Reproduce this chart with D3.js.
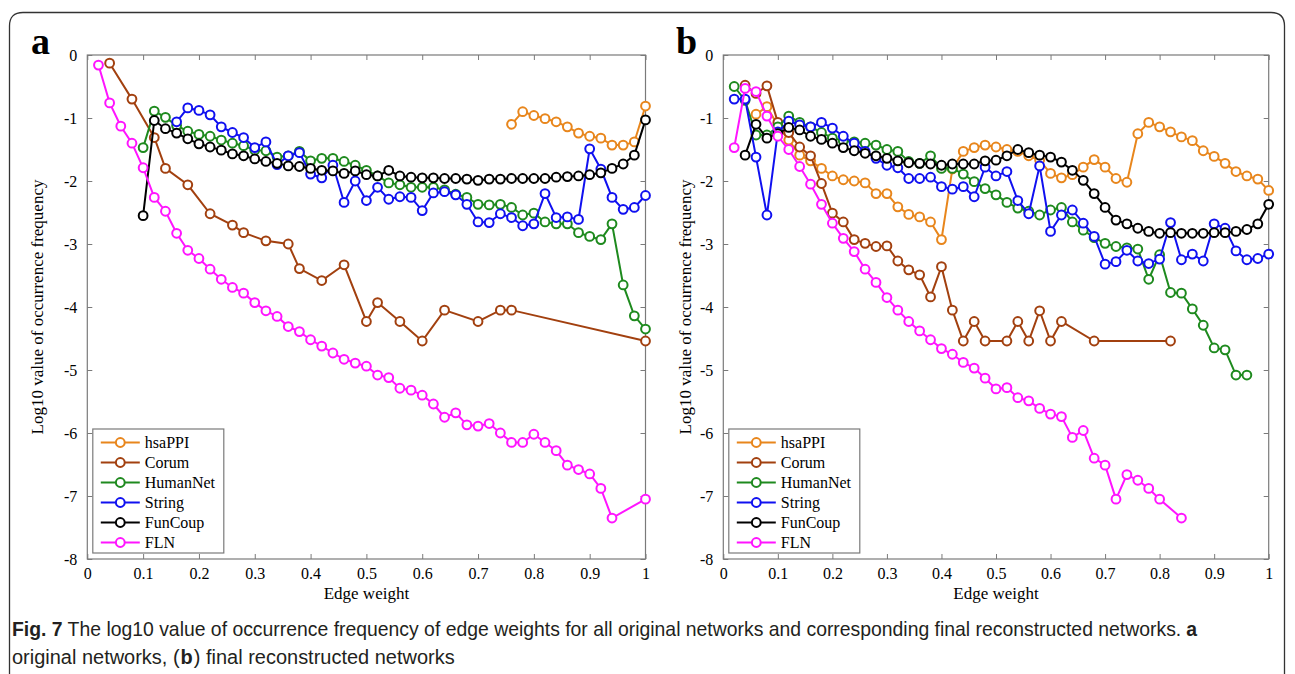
<!DOCTYPE html>
<html>
<head>
<meta charset="utf-8">
<script src="https://cdn.jsdelivr.net/npm/d3@7"></script>
<style>
	body { margin: 0; background: #fff; }
	svg text { font-family: "Liberation Serif", "Times New Roman", serif; }
</style>
</head>
<body>
<svg id="fig" width="1295" height="674"></svg>
<script>
// ---------- DATA ----------
const seriesNames = ["hsaPPI", "Corum", "HumanNet", "String", "FunCoup", "FLN"];
const seriesColors = ["#e8861c", "#a2400f", "#1e8a1e", "#1010f0", "#000000", "#ff14ff"];
const xTicks = [0, 0.1, 0.2, 0.3, 0.4, 0.5, 0.6, 0.7, 0.8, 0.9, 1];
const yTicks = [0, -1, -2, -3, -4, -5, -6, -7, -8];

// (a) original networks: [edge weight, log10 frequency]
const aHsaPPI = [[0.76,-1.10],[0.78,-0.90],[0.80,-0.96],[0.82,-1.01],[0.84,-1.06],[0.86,-1.14],[0.88,-1.24],[0.90,-1.29],[0.92,-1.32],[0.94,-1.43],[0.96,-1.43],[0.98,-1.38],[1.00,-0.81]];
const aCorum = [[0.04,-0.13],[0.08,-0.70],[0.12,-1.31],[0.14,-1.80],[0.18,-2.06],[0.22,-2.52],[0.26,-2.70],[0.28,-2.82],[0.32,-2.95],[0.36,-3.00],[0.38,-3.39],[0.42,-3.58],[0.46,-3.33],[0.50,-4.23],[0.52,-3.93],[0.56,-4.23],[0.60,-4.54],[0.64,-4.05],[0.70,-4.23],[0.74,-4.05],[0.76,-4.05],[1.00,-4.54]];
const aHumanNet = [[0.10,-1.47],[0.12,-0.89],[0.14,-0.99],[0.16,-1.12],[0.18,-1.21],[0.20,-1.26],[0.22,-1.29],[0.24,-1.35],[0.26,-1.40],[0.28,-1.44],[0.30,-1.51],[0.32,-1.52],[0.34,-1.62],[0.36,-1.60],[0.38,-1.53],[0.40,-1.68],[0.42,-1.64],[0.44,-1.64],[0.46,-1.69],[0.48,-1.75],[0.50,-1.83],[0.52,-1.92],[0.54,-2.03],[0.56,-2.06],[0.58,-2.10],[0.60,-2.10],[0.62,-2.10],[0.64,-2.14],[0.66,-2.21],[0.68,-2.26],[0.70,-2.37],[0.72,-2.38],[0.74,-2.37],[0.76,-2.42],[0.78,-2.54],[0.80,-2.51],[0.82,-2.65],[0.84,-2.68],[0.86,-2.68],[0.88,-2.82],[0.90,-2.88],[0.92,-2.93],[0.94,-2.68],[0.96,-3.65],[0.98,-4.14],[1.00,-4.35]];
const aString = [[0.16,-1.06],[0.18,-0.84],[0.20,-0.88],[0.22,-0.95],[0.24,-1.14],[0.26,-1.23],[0.28,-1.31],[0.30,-1.47],[0.32,-1.38],[0.34,-1.74],[0.36,-1.60],[0.38,-1.55],[0.40,-1.89],[0.42,-1.95],[0.44,-1.75],[0.46,-2.34],[0.48,-2.00],[0.50,-2.31],[0.52,-2.10],[0.54,-2.29],[0.56,-2.25],[0.58,-2.26],[0.60,-2.47],[0.62,-2.19],[0.64,-2.17],[0.66,-2.22],[0.68,-2.37],[0.70,-2.65],[0.72,-2.66],[0.74,-2.52],[0.76,-2.58],[0.78,-2.71],[0.80,-2.68],[0.82,-2.20],[0.84,-2.58],[0.86,-2.57],[0.88,-2.61],[0.90,-1.49],[0.92,-1.81],[0.94,-2.26],[0.96,-2.45],[0.98,-2.42],[1.00,-2.23]];
const aFunCoup = [[0.10,-2.55],[0.12,-1.04],[0.14,-1.17],[0.16,-1.24],[0.18,-1.33],[0.20,-1.41],[0.22,-1.46],[0.24,-1.51],[0.26,-1.57],[0.28,-1.60],[0.30,-1.65],[0.32,-1.69],[0.34,-1.72],[0.36,-1.76],[0.38,-1.77],[0.40,-1.80],[0.42,-1.83],[0.44,-1.84],[0.46,-1.88],[0.48,-1.84],[0.50,-1.90],[0.52,-1.92],[0.54,-1.83],[0.56,-1.92],[0.58,-1.94],[0.60,-1.95],[0.62,-1.95],[0.64,-1.96],[0.66,-1.96],[0.68,-1.97],[0.70,-1.99],[0.72,-1.97],[0.74,-1.97],[0.76,-1.96],[0.78,-1.96],[0.80,-1.96],[0.82,-1.96],[0.84,-1.94],[0.86,-1.93],[0.88,-1.92],[0.90,-1.90],[0.92,-1.87],[0.94,-1.80],[0.96,-1.73],[0.98,-1.59],[1.00,-1.03]];
const aFLN = [[0.02,-0.16],[0.04,-0.76],[0.06,-1.13],[0.08,-1.40],[0.10,-1.79],[0.12,-2.26],[0.14,-2.48],[0.16,-2.83],[0.18,-3.10],[0.20,-3.23],[0.22,-3.40],[0.24,-3.56],[0.26,-3.69],[0.28,-3.78],[0.30,-3.93],[0.32,-4.06],[0.34,-4.15],[0.36,-4.31],[0.38,-4.39],[0.40,-4.52],[0.42,-4.62],[0.44,-4.73],[0.46,-4.83],[0.48,-4.89],[0.50,-4.94],[0.52,-5.08],[0.54,-5.12],[0.56,-5.29],[0.58,-5.32],[0.60,-5.40],[0.62,-5.54],[0.64,-5.75],[0.66,-5.68],[0.68,-5.87],[0.70,-5.89],[0.72,-5.85],[0.74,-6.00],[0.76,-6.15],[0.78,-6.15],[0.80,-6.02],[0.82,-6.15],[0.84,-6.28],[0.86,-6.51],[0.88,-6.58],[0.90,-6.65],[0.92,-6.88],[0.94,-7.35],[1.00,-7.05]];

// (b) final reconstructed networks
const bHsaPPI = [[0.06,-0.94],[0.08,-0.82],[0.10,-1.12],[0.12,-1.35],[0.14,-1.59],[0.16,-1.68],[0.18,-1.80],[0.20,-1.92],[0.22,-1.98],[0.24,-2.00],[0.26,-2.03],[0.28,-2.20],[0.30,-2.20],[0.32,-2.41],[0.34,-2.53],[0.36,-2.57],[0.38,-2.65],[0.40,-2.93],[0.42,-1.81],[0.44,-1.53],[0.46,-1.47],[0.48,-1.43],[0.50,-1.46],[0.52,-1.50],[0.54,-1.53],[0.56,-1.60],[0.58,-1.67],[0.60,-1.88],[0.62,-1.95],[0.64,-1.90],[0.66,-1.78],[0.68,-1.66],[0.70,-1.78],[0.72,-1.96],[0.74,-2.02],[0.76,-1.25],[0.78,-1.07],[0.80,-1.14],[0.82,-1.22],[0.84,-1.30],[0.86,-1.36],[0.88,-1.52],[0.90,-1.61],[0.92,-1.72],[0.94,-1.85],[0.96,-1.92],[0.98,-1.97],[1.00,-2.15]];
const bCorum = [[0.04,-0.48],[0.06,-0.61],[0.08,-0.49],[0.10,-1.07],[0.12,-1.23],[0.14,-1.46],[0.16,-1.60],[0.18,-2.04],[0.20,-2.51],[0.22,-2.65],[0.24,-2.93],[0.26,-2.99],[0.28,-3.04],[0.30,-3.03],[0.32,-3.27],[0.34,-3.41],[0.36,-3.49],[0.38,-3.84],[0.40,-3.36],[0.42,-4.05],[0.44,-4.54],[0.46,-4.23],[0.48,-4.54],[0.52,-4.54],[0.54,-4.23],[0.56,-4.54],[0.58,-4.06],[0.60,-4.54],[0.62,-4.23],[0.68,-4.54],[0.82,-4.54]];
const bHumanNet = [[0.02,-0.50],[0.04,-0.72],[0.06,-1.27],[0.08,-1.27],[0.10,-1.14],[0.12,-0.97],[0.14,-1.07],[0.16,-1.14],[0.18,-1.23],[0.20,-1.32],[0.22,-1.36],[0.24,-1.38],[0.26,-1.40],[0.28,-1.43],[0.30,-1.50],[0.32,-1.53],[0.34,-1.69],[0.36,-1.72],[0.38,-1.60],[0.40,-1.80],[0.42,-1.80],[0.44,-1.89],[0.46,-2.01],[0.48,-2.12],[0.50,-2.22],[0.52,-2.34],[0.54,-2.43],[0.56,-2.48],[0.58,-2.54],[0.60,-2.46],[0.62,-2.42],[0.64,-2.65],[0.66,-2.78],[0.68,-2.90],[0.70,-2.99],[0.72,-3.04],[0.74,-3.06],[0.76,-3.08],[0.78,-3.56],[0.80,-3.17],[0.82,-3.77],[0.84,-3.78],[0.86,-4.03],[0.88,-4.29],[0.90,-4.65],[0.92,-4.68],[0.94,-5.08],[0.96,-5.08]];
const bString = [[0.02,-0.70],[0.04,-0.70],[0.06,-1.62],[0.08,-2.54],[0.10,-1.22],[0.12,-1.05],[0.14,-1.11],[0.16,-1.14],[0.18,-1.07],[0.20,-1.16],[0.22,-1.29],[0.24,-1.40],[0.26,-1.53],[0.28,-1.64],[0.30,-1.75],[0.32,-1.79],[0.34,-1.96],[0.36,-1.96],[0.38,-1.94],[0.40,-2.09],[0.42,-2.13],[0.44,-2.09],[0.46,-2.25],[0.48,-1.78],[0.50,-1.92],[0.52,-1.85],[0.54,-2.31],[0.56,-2.52],[0.58,-1.76],[0.60,-2.80],[0.62,-2.54],[0.64,-2.46],[0.66,-2.67],[0.68,-2.88],[0.70,-3.32],[0.72,-3.28],[0.74,-3.10],[0.76,-3.27],[0.78,-3.31],[0.80,-3.24],[0.82,-2.66],[0.84,-3.25],[0.86,-3.16],[0.88,-3.27],[0.90,-2.68],[0.92,-2.75],[0.94,-3.11],[0.96,-3.25],[0.98,-3.23],[1.00,-3.16]];
const bFunCoup = [[0.04,-1.59],[0.06,-1.10],[0.08,-1.32],[0.10,-1.25],[0.12,-1.15],[0.14,-1.19],[0.16,-1.29],[0.18,-1.34],[0.20,-1.40],[0.22,-1.47],[0.24,-1.52],[0.26,-1.56],[0.28,-1.60],[0.30,-1.64],[0.32,-1.68],[0.34,-1.71],[0.36,-1.72],[0.38,-1.73],[0.40,-1.75],[0.42,-1.73],[0.44,-1.73],[0.46,-1.73],[0.48,-1.68],[0.50,-1.67],[0.52,-1.60],[0.54,-1.50],[0.56,-1.55],[0.58,-1.59],[0.60,-1.62],[0.62,-1.70],[0.64,-1.83],[0.66,-1.99],[0.68,-2.20],[0.70,-2.42],[0.72,-2.62],[0.74,-2.68],[0.76,-2.75],[0.78,-2.80],[0.80,-2.83],[0.82,-2.82],[0.84,-2.83],[0.86,-2.83],[0.88,-2.83],[0.90,-2.82],[0.92,-2.82],[0.94,-2.80],[0.96,-2.77],[0.98,-2.68],[1.00,-2.37]];
const bFLN = [[0.02,-1.47],[0.04,-0.53],[0.06,-0.58],[0.08,-0.97],[0.10,-1.29],[0.12,-1.50],[0.14,-1.77],[0.16,-2.05],[0.18,-2.37],[0.20,-2.67],[0.22,-2.91],[0.24,-3.12],[0.26,-3.40],[0.28,-3.61],[0.30,-3.85],[0.32,-4.05],[0.34,-4.23],[0.36,-4.38],[0.38,-4.52],[0.40,-4.66],[0.42,-4.75],[0.44,-4.88],[0.46,-4.97],[0.48,-5.13],[0.50,-5.30],[0.52,-5.28],[0.54,-5.44],[0.56,-5.49],[0.58,-5.61],[0.60,-5.70],[0.62,-5.74],[0.64,-6.07],[0.66,-5.96],[0.68,-6.40],[0.70,-6.51],[0.72,-7.05],[0.74,-6.66],[0.76,-6.75],[0.78,-6.88],[0.80,-7.05],[0.84,-7.35]];

// caption pieces: [text, bold?]
const captionLine1 = [["Fig. 7", true], ["The log10 value of occurrence frequency of edge weights for all original networks and corresponding final reconstructed networks.", false], ["a", true]];
const captionLine2 = [["original networks, (", false], ["b", true], [") final reconstructed networks", false]];

// ---------- LAYOUT ----------
const panels = [
	{ letter: "a", left: 87.3, right: 645.5, letterX: 31, ylabX: 43, series: [aHsaPPI, aCorum, aHumanNet, aString, aFunCoup, aFLN] },
	{ letter: "b", left: 723.3, right: 1268.7, letterX: 676, ylabX: 691, series: [bHsaPPI, bCorum, bHumanNet, bString, bFunCoup, bFLN] },
];
const plotTop = 55, plotBottom = 559;
const axisColor = "#7a7a7a";
const serif = "'Liberation Serif', 'Times New Roman', serif";

const svg = d3.select("#fig");

// figure frame
svg.append("path")
	.attr("d", "M9.5,690 L9.5,26 Q9.5,12.5 23,12.5 L1271,12.5 Q1284.5,12.5 1284.5,26 L1284.5,690")
	.attr("fill", "none")
	.attr("stroke", "#333")
	.attr("stroke-width", 1.3);

panels.forEach((p) => {
	const x = d3.scaleLinear().domain([0, 1]).range([p.left, p.right]);
	const y = d3.scaleLinear().domain([-8, 0]).range([plotBottom, plotTop]);
	const g = svg.append("g");

	// panel letter
	g.append("text")
		.attr("x", p.letterX)
		.attr("y", 54)
		.attr("font-size", 38)
		.attr("font-weight", "bold")
		.text(p.letter);

	// axes (MATLAB style box with inward ticks)
	const fmtX = (d) => String(+d.toFixed(1));
	const axB = g.append("g").attr("transform", `translate(0,${plotBottom})`)
		.call(d3.axisBottom(x).tickValues(xTicks).tickSizeInner(-5).tickSizeOuter(0).tickPadding(9).tickFormat(fmtX));
	const axT = g.append("g").attr("transform", `translate(0,${plotTop})`)
		.call(d3.axisTop(x).tickValues(xTicks).tickSizeInner(-5).tickSizeOuter(0).tickFormat(""));
	const axL = g.append("g").attr("transform", `translate(${p.left},0)`)
		.call(d3.axisLeft(y).tickValues(yTicks).tickSizeInner(-5).tickSizeOuter(0).tickPadding(10).tickFormat((d) => String(d)));
	const axR = g.append("g").attr("transform", `translate(${p.right},0)`)
		.call(d3.axisRight(y).tickValues(yTicks).tickSizeInner(-5).tickSizeOuter(0).tickFormat(""));
	[axB, axT, axL, axR].forEach((a) => {
		a.select(".domain").remove();
		a.selectAll("line").attr("stroke", axisColor);
		a.selectAll("text").attr("font-size", 16).attr("fill", "#000").style("font-family", serif);
	});
	g.append("rect")
		.attr("x", p.left).attr("y", plotTop)
		.attr("width", p.right - p.left).attr("height", plotBottom - plotTop)
		.attr("fill", "none").attr("stroke", axisColor).attr("stroke-width", 1.2);

	// axis titles
	g.append("text")
		.attr("x", (p.left + p.right) / 2)
		.attr("y", 599)
		.attr("text-anchor", "middle")
		.attr("font-size", 17)
		.text("Edge weight");
	g.append("text")
		.attr("transform", `translate(${p.ylabX},${(plotTop + plotBottom) / 2}) rotate(-90)`)
		.attr("text-anchor", "middle")
		.attr("font-size", 17)
		.text("Log10 value of occurrence frequency");

	// series
	const line = d3.line().x((d) => x(d[0])).y((d) => y(d[1]));
	p.series.forEach((data, i) => {
		const sg = g.append("g");
		sg.append("path")
			.attr("d", line(data))
			.attr("fill", "none")
			.attr("stroke", seriesColors[i])
			.attr("stroke-width", 2);
		sg.selectAll("circle")
			.data(data)
			.enter()
			.append("circle")
			.attr("cx", (d) => x(d[0]))
			.attr("cy", (d) => y(d[1]))
			.attr("r", 4.4)
			.attr("fill", "#fff")
			.attr("stroke", seriesColors[i])
			.attr("stroke-width", 2);
	});

	// legend
	const lx = p.left + 5.5;
	const leg = g.append("g").attr("transform", `translate(${lx},429)`);
	leg.append("rect")
		.attr("width", 131).attr("height", 124)
		.attr("fill", "#fff").attr("stroke", axisColor).attr("stroke-width", 1.2);
	seriesNames.forEach((name, i) => {
		const ly = 13.5 + i * 20;
		leg.append("line")
			.attr("x1", 8).attr("x2", 47).attr("y1", ly).attr("y2", ly)
			.attr("stroke", seriesColors[i]).attr("stroke-width", 2);
		leg.append("circle")
			.attr("cx", 27.5).attr("cy", ly).attr("r", 4.4)
			.attr("fill", "#fff").attr("stroke", seriesColors[i]).attr("stroke-width", 2);
		leg.append("text")
			.attr("x", 52).attr("y", ly + 5.5)
			.attr("font-size", 16)
			.text(name);
	});
});

// ---------- CAPTION ----------
// each piece is its own text element; font size is chosen so the line fills its width in the reference
const capFont = "'Liberation Sans Narrow', 'Arial Narrow', 'Liberation Sans', sans-serif";
function drawCaptionLine(pieces, x0, x1, yBase) {
	const baseSize = 20;
	const nodes = pieces.map(([t, bold]) => svg.append("text")
		.attr("y", yBase)
		.attr("font-size", baseSize)
		.attr("font-weight", bold ? "bold" : "normal")
		.attr("fill", "#231f20")
		.style("font-family", capFont)
		.text(t));
	const gaps = pieces.map((pc, i) => {
		if (i === 0) return 0;
		const prev = pieces[i - 1][0];
		return (prev.endsWith("(") || pc[0].startsWith(")")) ? 1 : 5;
	});
	const widths = nodes.map((n) => n.node().getComputedTextLength());
	const size = baseSize * (x1 - x0 - d3.sum(gaps)) / d3.sum(widths);
	nodes.forEach((n) => n.attr("font-size", size));
	let cx = x0;
	nodes.forEach((n, i) => {
		cx += gaps[i];
		n.attr("x", cx);
		cx += n.node().getComputedTextLength();
	});
}
drawCaptionLine(captionLine1, 12, 1198, 636);
drawCaptionLine(captionLine2, 12, 455, 664);
</script>
</body>
</html>
